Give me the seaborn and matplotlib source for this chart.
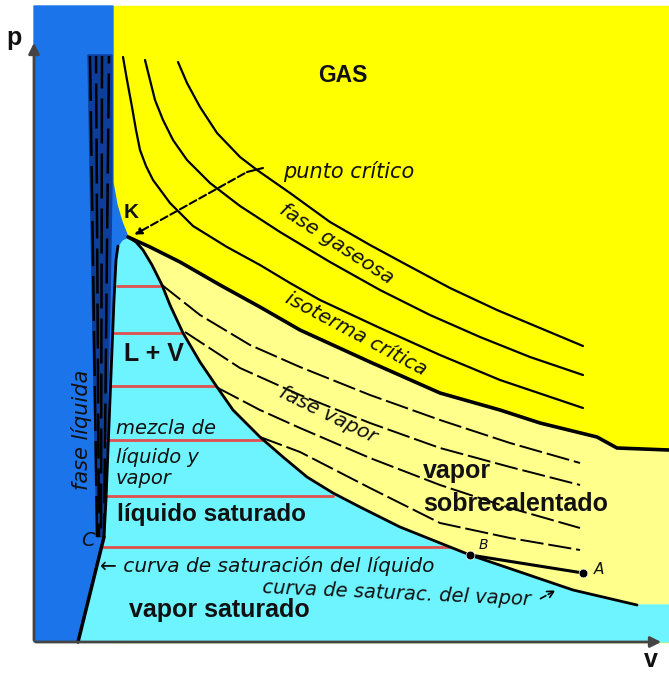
import numpy as np
import matplotlib
matplotlib.use("Agg")
import matplotlib.pyplot as plt
import seaborn as sns

# -----------------------------
# Diagram data (pixel coords, y grows downward)
# -----------------------------
# isotherms in the gas region (outer to inner)
iso3_x = [178, 187, 200, 217, 240, 257, 290, 330, 370, 407, 450, 497, 540, 583]
iso3_y = [62, 83, 107, 133, 157, 170, 193, 222, 245, 265, 288, 310, 328, 346]
iso2_x = [145, 150, 155, 163, 173, 187, 210, 240, 280, 330, 380, 430, 480, 530, 583]
iso2_y = [60, 80, 100, 120, 140, 160, 183, 206, 232, 262, 290, 315, 337, 357, 375]
iso1_x = [123, 127, 132, 136, 140, 146, 153, 170, 193, 227, 260, 290, 320, 380, 440, 500, 583]
iso1_y = [57, 80, 107, 130, 150, 166, 180, 203, 226, 247, 265, 283, 300, 328, 355, 380, 408]

# critical isotherm, from K to the right edge
crit_x = [128, 150, 180, 220, 260, 300, 370, 440, 500, 540, 597, 617, 669]
crit_y = [237, 247, 262, 285, 307, 330, 362, 393, 410, 423, 437, 448, 450]

# saturated vapour curve, from K down to the right
satv_x = [128, 136, 143, 152, 162, 170, 183, 200, 217, 233, 260, 283, 307, 333, 360, 400, 440, 470, 523, 573, 637]
satv_y = [237, 242, 250, 265, 285, 305, 333, 362, 387, 410, 437, 457, 477, 493, 507, 527, 543, 555, 573, 590, 605]

# saturated liquid curve, from K down to C
liq_x = [128, 122, 118, 116, 114, 112, 110, 108, 106, 104]
liq_y = [237, 240, 246, 260, 300, 350, 400, 450, 500, 537]

# isotherms in the vapour region
vap1_x = [162, 200, 250, 300, 370, 440, 510, 580]
vap1_y = [285, 315, 345, 367, 395, 420, 443, 463]
vap2_x = [185, 240, 300, 370, 440, 510, 580]
vap2_y = [332, 368, 395, 423, 448, 467, 485]
vap3_x = [218, 260, 300, 370, 440, 510, 580]
vap3_y = [388, 410, 428, 458, 485, 508, 528]
vap4_x = [260, 300, 370, 440, 510, 580]
vap4_y = [437, 452, 488, 523, 538, 550]

# B -> A
pts_x = [470, 583]
pts_y = [555, 573]

# tie lines inside the dome
tie_y = [286, 333, 386, 440, 496, 547]
tie_x0 = [117, 113, 110, 107, 105, 103]
tie_x1 = [160, 182, 215, 263, 333, 450]

# liquid isotherms (almost vertical dashes)
liqiso_top = [90, 96, 102, 109]
liqiso_bot = [97, 99, 101, 104]
liqiso_off = [0, 11, 5, 15]

BLUE = "#1C74EA"
NAVY = "#0D3F9A"
CYAN = "#6EF4FF"
YELLOW = "#FFFF00"
LYELLOW = "#FFFF8C"
RED = "#E0504F"

sns.set_theme(style="white")
plt.rcParams["font.family"] = ["Liberation Sans", "DejaVu Sans"]

fig = plt.figure(figsize=(6.69, 6.75), dpi=100)
ax = fig.add_axes([0, 0, 1, 1])
ax.set_xlim(0, 669)
ax.set_ylim(675, 0)
ax.axis("off")

# -----------------------------
# Regions
# -----------------------------
ax.fill([113, 669, 669, 113], [6, 6, 642, 642], color=YELLOW, zorder=1)
ax.fill(crit_x + [669, 669] + satv_x[::-1], crit_y + [450, 605] + satv_y[::-1],
        color=LYELLOW, zorder=2)
ax.fill(satv_x + [669, 669, 78] + liq_x[::-1], satv_y + [605, 642, 642] + liq_y[::-1],
        color=CYAN, zorder=2)
ax.fill([34, 113, 113, 117, 122] + liq_x + [78, 34],
        [6, 6, 183, 205, 222] + liq_y + [642, 642], color=BLUE, zorder=3)
ax.fill([88, 112, 112, 110, 107, 104, 97, 93], [55, 55, 183, 300, 420, 537, 537, 340],
        color=NAVY, zorder=3)

# tie lines
for y, x0, x1 in zip(tie_y, tie_x0, tie_x1):
    ax.plot([x0, x1], [y, y], color=RED, lw=2, zorder=4)

# liquid isotherms
for xt, xb, off in zip(liqiso_top, liqiso_bot, liqiso_off):
    ax.plot([xt, xb], [56, 537], color="black", lw=1.8, linestyle=(off, (18, 4)), zorder=4)

# -----------------------------
# Curves
# -----------------------------
for xs, ys in [(iso3_x, iso3_y), (iso2_x, iso2_y), (iso1_x, iso1_y)]:
    sns.lineplot(x=xs, y=ys, sort=False, estimator=None, color="black", lw=1.6, ax=ax, zorder=5)
sns.lineplot(x=crit_x, y=crit_y, sort=False, estimator=None, color="black", lw=2.6, ax=ax, zorder=6)
sns.lineplot(x=satv_x, y=satv_y, sort=False, estimator=None, color="black", lw=2, ax=ax, zorder=6)
sns.lineplot(x=liq_x[2:], y=liq_y[2:], sort=False, estimator=None, color="black", lw=2, ax=ax, zorder=6)
sns.lineplot(x=[104, 78], y=[537, 642], sort=False, estimator=None, color="black", lw=2.5, ax=ax, zorder=6)
for xs, ys in [(vap1_x, vap1_y), (vap2_x, vap2_y), (vap3_x, vap3_y), (vap4_x, vap4_y)]:
    sns.lineplot(x=xs, y=ys, sort=False, estimator=None, color="black", lw=1.4,
                 linestyle=(0, (12, 2.5)), ax=ax, zorder=5)
sns.lineplot(x=pts_x, y=pts_y, sort=False, estimator=None, color="black", lw=2.2, ax=ax, zorder=6)
sns.scatterplot(x=pts_x, y=pts_y, color="black", s=40, ax=ax, zorder=7)

# critical point pointer
ax.plot([247, 263], [172, 168], color="black", lw=1.5, zorder=6)
ax.annotate("", xy=(132, 236), xytext=(247, 172),
            arrowprops=dict(arrowstyle="-|>", color="black", lw=1.5, linestyle="--",
                            mutation_scale=10), zorder=6)

# axes
ax.annotate("", xy=(34, 40), xytext=(34, 643),
            arrowprops=dict(arrowstyle="-|>", color="#444444", lw=2, mutation_scale=16), zorder=8)
ax.annotate("", xy=(664, 642), xytext=(33, 642),
            arrowprops=dict(arrowstyle="-|>", color="#444444", lw=2, mutation_scale=16), zorder=8)

# -----------------------------
# Labels
# -----------------------------
bold = dict(fontweight="bold", color="#111111", zorder=9)
ital = dict(family="DejaVu Sans", style="italic", color="#111111", zorder=9)

ax.text(14, 38, "p", fontsize=18, ha="center", va="center", **bold)
ax.text(651, 660, "v", fontsize=18, ha="center", va="center", **bold)
ax.text(343, 76, "GAS", fontsize=16.5, ha="center", va="center", **bold)
ax.text(131, 213, "K", fontsize=15, ha="center", va="center", **bold)
ax.text(154, 354, "L + V", fontsize=18, ha="center", va="center", **bold)
ax.text(117, 515, "líquido saturado", fontsize=17.5, ha="left", va="center", **bold)
ax.text(129, 610, "vapor saturado", fontsize=18, ha="left", va="center", **bold)
ax.text(423, 471, "vapor", fontsize=18, ha="left", va="center", **bold)
ax.text(423, 504, "sobrecalentado", fontsize=18, ha="left", va="center", **bold)

ax.text(283, 172, "punto crítico", fontsize=15, ha="left", va="center", **ital)
ax.text(337, 244, "fase gaseosa", fontsize=14.5, ha="center", va="center", rotation=-33, **ital)
ax.text(356, 334, "isoterma crítica", fontsize=14.5, ha="center", va="center", rotation=-28, **ital)
ax.text(328, 415, "fase vapor", fontsize=14.5, ha="center", va="center", rotation=-26, **ital)
ax.text(116, 429, "mezcla de", fontsize=14, ha="left", va="center", **ital)
ax.text(116, 457, "líquido y", fontsize=14, ha="left", va="center", **ital)
ax.text(116, 479, "vapor", fontsize=14, ha="left", va="center", **ital)
ax.text(81, 430, "fase líquida", fontsize=15, ha="center", va="center", rotation=90, **ital)
ax.text(88, 540, "C", fontsize=14, ha="center", va="center", **ital)
ax.text(100, 566, "← curva de saturación del líquido", fontsize=14.5, ha="left", va="center", **ital)
ax.text(262, 594, "curva de saturac. del vapor", fontsize=14, ha="left", va="center",
        rotation=-2.6, **ital)
ax.annotate("", xy=(558, 589), xytext=(538, 600),
            arrowprops=dict(arrowstyle="->", color="black", lw=1.2, linestyle="--"), zorder=9)
ax.text(483, 545, "B", fontsize=10, ha="center", va="center", **ital)
ax.text(599, 569, "A", fontsize=11, ha="center", va="center", **ital)

fig.savefig("out.png", dpi=100)
plt.close(fig)
